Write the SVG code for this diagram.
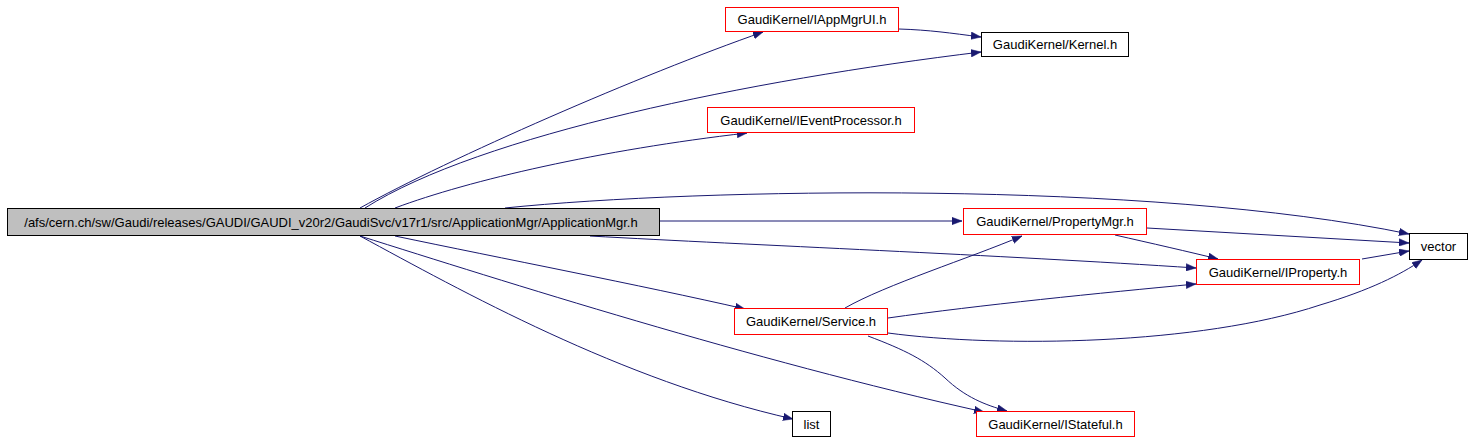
<svg xmlns="http://www.w3.org/2000/svg" width="1474" height="442" viewBox="0 0 1474 442">
<defs>
<style>
.n rect{fill:#ffffff;stroke:#000000;stroke-width:1}
.n.r rect{stroke:#ff0000}
.n.m rect{fill:#bfbfbf}
.n text{font-family:"Liberation Sans",Arial,sans-serif;font-size:13px;fill:#000000;text-anchor:middle}
.e path{fill:none;stroke:#191970;stroke-width:1;marker-end:url(#ah)}
</style>
<marker id="ah" markerUnits="userSpaceOnUse" markerWidth="11" markerHeight="8" refX="10" refY="4" orient="auto">
<path d="M0,0.3 L10,4 L0,7.7 z" fill="#191970" stroke="#191970" stroke-width="0.5"/>
</marker>
</defs>
<rect width="1474" height="442" fill="#ffffff"/>
<g id="connectors" class="e">
<path d="M360,208 C450,158 640,75 763,32"/>
<path d="M365,208 C480,135 750,80 981,52"/>
<path d="M899,29 C930,30 950,33 981,37"/>
<path d="M395,208 C470,180 600,150 747,133"/>
<path d="M505,208 C700,188 1150,180 1409,234"/>
<path d="M660,221 L962,221"/>
<path d="M590,236 C750,245 1000,255 1196,268"/>
<path d="M395,236 C500,258 640,285 745,309"/>
<path d="M360,236 C460,290 620,380 793,419"/>
<path d="M360,236 C500,280 750,360 984,412"/>
<path d="M1147,228 L1409,243"/>
<path d="M1115,235 C1150,243 1190,252 1218,259"/>
<path d="M1362,259 L1409,251"/>
<path d="M845,308 C885,285 970,258 1022,236"/>
<path d="M888,318 C980,305 1100,293 1196,284"/>
<path d="M888,333 C1000,348 1200,345 1320,305 C1370,290 1400,275 1422,260"/>
<path d="M868,336 C905,350 925,360 945,378 C965,397 985,405 1007,411"/>
</g>
<g id="node-main" class="n m"><rect x="7.5" y="208.5" width="652" height="27"/><text x="331" y="226.5">/afs/cern.ch/sw/Gaudi/releases/GAUDI/GAUDI_v20r2/GaudiSvc/v17r1/src/ApplicationMgr/ApplicationMgr.h</text></g>
<g id="node-iappmgrui" class="n r"><rect x="725.5" y="7.5" width="173" height="24"/><text x="812" y="24">GaudiKernel/IAppMgrUI.h</text></g>
<g id="node-kernel" class="n"><rect x="981.5" y="32.5" width="147" height="24"/><text x="1055" y="49">GaudiKernel/Kernel.h</text></g>
<g id="node-ieventprocessor" class="n r"><rect x="707.5" y="107.5" width="207" height="25"/><text x="811" y="124.5">GaudiKernel/IEventProcessor.h</text></g>
<g id="node-propertymgr" class="n r"><rect x="963.5" y="208.5" width="183" height="26"/><text x="1055" y="226">GaudiKernel/PropertyMgr.h</text></g>
<g id="node-vector" class="n"><rect x="1409.5" y="233.5" width="58" height="26"/><text x="1438.5" y="251">vector</text></g>
<g id="node-iproperty" class="n r"><rect x="1196.5" y="259.5" width="163" height="25"/><text x="1278" y="276.5">GaudiKernel/IProperty.h</text></g>
<g id="node-service" class="n r"><rect x="734.5" y="308.5" width="153" height="26"/><text x="811" y="326">GaudiKernel/Service.h</text></g>
<g id="node-list" class="n"><rect x="792.5" y="411.5" width="38" height="25"/><text x="811.5" y="428.5">list</text></g>
<g id="node-istateful" class="n r"><rect x="976.5" y="411.5" width="158" height="25"/><text x="1055.5" y="428.5">GaudiKernel/IStateful.h</text></g>
</svg>
